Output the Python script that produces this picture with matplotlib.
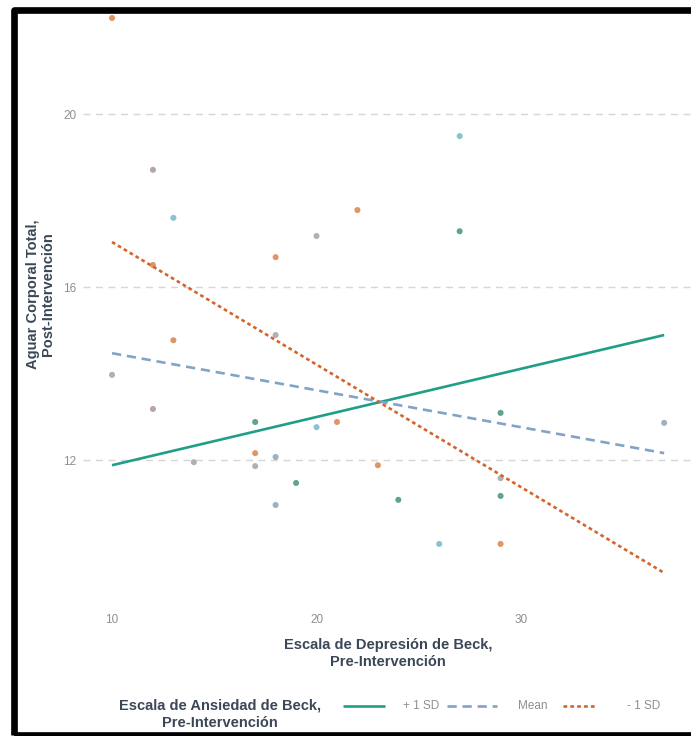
import matplotlib.pyplot as plt
from matplotlib.lines import Line2D
from matplotlib.patches import Rectangle

plt.rcParams['font.family'] = ['Liberation Sans', 'DejaVu Sans']

# Puntos observados: depresión (x), agua corporal (y) y grupo de color según ansiedad
dep_x = [10, 10, 12, 12, 12, 13, 13, 14, 17, 17, 17, 18, 18, 18, 18, 19,
         20, 20, 21, 22, 23, 24, 26, 27, 27, 29, 29, 29, 29, 37]
agua_y = [22.22, 13.97, 18.71, 16.51, 13.18, 17.60, 14.77, 11.95, 12.88, 12.16,
          11.86, 16.69, 14.89, 12.07, 10.96, 11.47, 17.18, 12.76, 12.88, 17.78,
          11.88, 11.08, 10.06, 19.49, 17.29, 13.09, 11.58, 11.17, 10.06, 12.86]
grupo = ['naranja', 'gris', 'malva', 'naranja', 'malva', 'celeste', 'naranja', 'gris',
         'verde', 'naranja', 'gris', 'naranja', 'gris', 'azulgris', 'azulgris', 'verde',
         'gris', 'celeste', 'naranja', 'naranja', 'naranja', 'verde', 'celeste', 'celeste',
         'verde', 'verde', 'gris', 'verde', 'naranja', 'azulgris']

colores_grupo = {
    'verde': '#4f9a7e',
    'celeste': '#7fbccb',
    'gris': '#a5aaad',
    'azulgris': '#95a9bb',
    'malva': '#ae99a6',
    'naranja': '#dc8a55',
}

# Rectas de regresión simple para cada nivel de ansiedad (extremos en x)
linea_x = [10, 37]
mas_1sd = [11.88, 14.89]
media = [14.47, 12.16]
menos_1sd = [17.04, 9.39]

etiquetas = ['+ 1 SD', 'Mean', '- 1 SD']
tick_x = [10, 20, 30]
tick_y = [12, 16, 20]

c_mas = '#1f9e88'
c_media = '#82a3c8'
c_menos = '#d5642c'
c_titulo = '#3b4757'
c_tick = '#8f8f8f'
estilos = [dict(color=c_mas, lw=1.9, solid_capstyle='butt'),
           dict(color=c_media, lw=1.9, dashes=(3.5, 2.2)),
           dict(color=c_menos, lw=1.9, dashes=(1.4, 1.2))]

W, H = 691, 736
fig = plt.figure(figsize=(W / 100, H / 100), dpi=100)
ax = fig.add_axes([83.4 / W, 1 - 600.6 / H, (692.8 - 83.4) / W, (600.6 + 11.4) / H])
ax.set_xlim(8.6, 38.4)
ax.set_ylim(8.75, 22.9)

for y in tick_y:
    ax.axhline(y, color='#d6d6d6', lw=1.0, dashes=(5, 4), zorder=0)

ax.scatter(dep_x, agua_y, c=[colores_grupo[g] for g in grupo], s=19,
           alpha=0.9, linewidths=0, zorder=2)

for ys, st in zip([mas_1sd, media, menos_1sd], estilos):
    ax.plot(linea_x, ys, zorder=3, **st)

ax.set_xticks(tick_x)
ax.set_yticks(tick_y)
ax.tick_params(length=0, labelsize=8.5, labelcolor=c_tick)
ax.tick_params(axis='x', pad=10)
ax.tick_params(axis='y', pad=5)
for s in ax.spines.values():
    s.set_visible(False)

ax.set_xlabel('Escala de Depresión de Beck,\nPre-Intervención', fontsize=10.5,
              fontweight='bold', color=c_titulo, labelpad=8, linespacing=1.35)
ax.set_ylabel('Aguar Corporal Total,\nPost-Intervención', fontsize=10.5,
              fontweight='bold', color=c_titulo, labelpad=6, linespacing=1.05)

# Leyenda dibujada a mano: título a la izquierda y tres claves en fila
fig.text(220 / W, 1 - 714 / H, 'Escala de Ansiedad de Beck,\nPre-Intervención',
         ha='center', va='center', fontsize=10.5, fontweight='bold', color=c_titulo,
         linespacing=1.3)
claves_px = [(343, 385, 403), (447, 497, 518), (563, 597, 627)]
y_ley = 1 - 706 / H
for (x0, x1, xt), st, txt in zip(claves_px, estilos, etiquetas):
    fig.add_artist(Line2D([x0 / W, x1 / W], [y_ley, y_ley],
                          transform=fig.transFigure, **st))
    fig.text(xt / W, y_ley, txt, ha='left', va='center', fontsize=8.5, color=c_tick)

# Marco negro alrededor de la figura
fig.patches.append(Rectangle((14 / W, 1 - 735 / H), 1.2, (735 - 9.5) / H,
                             transform=fig.transFigure, fill=False, ec='black',
                             lw=4.8, joinstyle='round', clip_on=False))

fig.savefig('out.png', dpi=100)
